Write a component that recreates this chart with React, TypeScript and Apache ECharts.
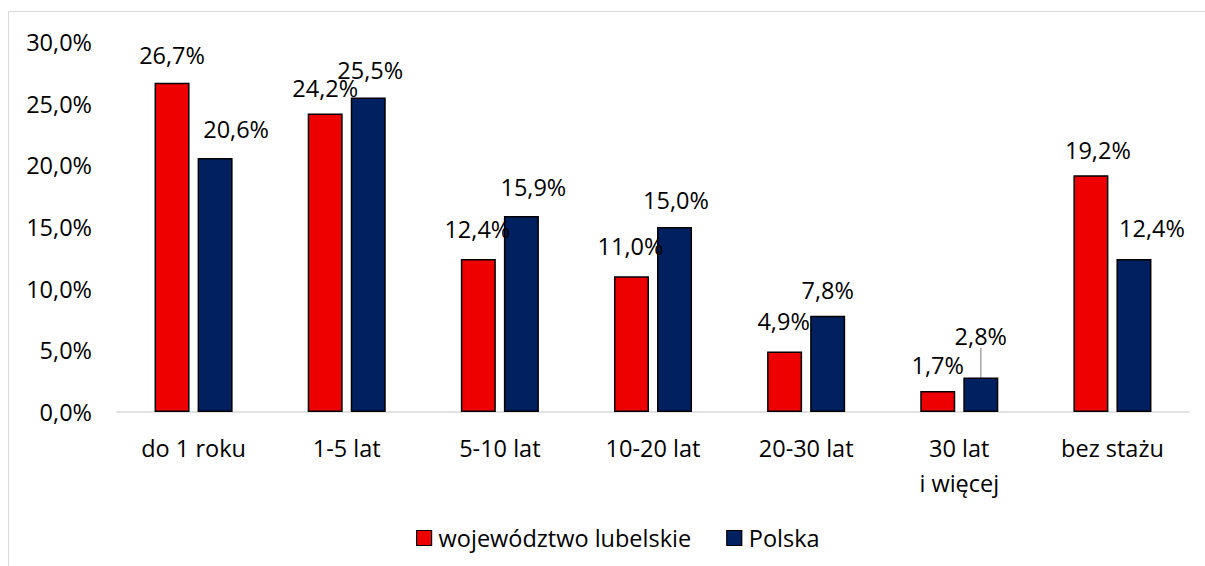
import React, { useEffect, useRef } from "react";
import * as echarts from "echarts";

const categories = ["do 1 roku", "1-5 lat", "5-10 lat", "10-20 lat", "20-30 lat", "30 lat\ni więcej", "bez stażu"];
const seriesNames = ["województwo lubelskie", "Polska"];
const lubelskie = [26.7, 24.2, 12.4, 11.0, 4.9, 1.7, 19.2];
const polska = [20.6, 25.5, 15.9, 15.0, 7.8, 2.8, 12.4];
const yTicks = { min: 0, max: 30, interval: 5 };

// label placement (dx, gap above bar top in px) – styling only
const labelPosRed = [[0, 27], [0, 25.6], [-1, 30], [-1, 30], [-1, 30], [0, 26], [7, 25]];
const labelPosBlue = [[21, 29], [2, 27.5], [12, 29], [1.5, 27], [0, 26], [0, 41.5], [18, 31]];

const FONT = "Open Sans";
const FS = 23.5;
const fmt = (v: number) => v.toFixed(1).replace(".", ",") + "%";

export default function App() {
  const ref = useRef<HTMLDivElement>(null);
  useEffect(() => {
    if (!ref.current) return;
    const chart = echarts.init(ref.current, undefined, { renderer: "svg" });
    const baseGap = 5 + FS / 2;
    const mk = (vals: number[], name: string, color: string, si: number) => ({
      name,
      type: "bar",
      barWidth: 35,
      barGap: "23%",
      itemStyle: { color, borderColor: "#000", borderWidth: 1.5 },
      label: {
        show: true,
        position: "top",
        distance: 5,
        color: "#000",
        fontFamily: FONT,
        fontSize: FS,
        formatter: (p: any) => fmt(p.value),
      },
      labelLine: { show: false, lineStyle: { color: "#a6a6a6", width: 1.5 } },
      data: vals.map((v, i) => ({
        value: v,
        labelLine: { show: si === 1 && i === 5 },
      })),
    });
    chart.setOption({
      animation: false,
      textStyle: { fontFamily: FONT },
      graphic: [
        {
          type: "rect",
          silent: true,
          shape: { x: 8.5, y: 11.5, width: 1400, height: 800 },
          style: { fill: "none", stroke: "#d9d9d9", lineWidth: 1 },
        },
      ],
      grid: { left: 117, right: 16, top: 42, bottom: 154 },
      legend: {
        data: seriesNames,
        top: 521,
        left: 411,
        icon: "rect",
        itemWidth: 15,
        itemHeight: 15,
        itemGap: 35,
        itemStyle: { borderColor: "#000", borderWidth: 1.2 },
        textStyle: { fontFamily: FONT, fontSize: FS, color: "#000", padding: [0, 0, 0, 2] },
      },
      xAxis: {
        type: "category",
        data: categories,
        axisTick: { show: false },
        axisLine: { lineStyle: { color: "#d9d9d9", width: 1.5 } },
        axisLabel: { color: "#000", fontFamily: FONT, fontSize: FS, margin: 18, lineHeight: 35, interval: 0 },
      },
      yAxis: {
        type: "value",
        min: yTicks.min,
        max: yTicks.max,
        interval: yTicks.interval,
        splitLine: { show: false },
        axisLine: { show: false },
        axisTick: { show: false },
        axisLabel: { color: "#000", fontFamily: FONT, fontSize: FS, margin: 25, formatter: (v: number) => fmt(v) },
      },
      labelLayout: (params: any) => {
        const arr = params.seriesIndex === 0 ? labelPosRed : labelPosBlue;
        const o = arr[params.dataIndex];
        return { dx: o[0], dy: -(o[1] - baseGap) };
      },
      series: [mk(lubelskie, seriesNames[0], "#ee0000", 0), mk(polska, seriesNames[1], "#002060", 1)],
    });
    return () => chart.dispose();
  }, []);
  return <div ref={ref} style={{ position: "fixed", left: 0, top: 0, width: 1205, height: 566, background: "#fff" }} />;
}
